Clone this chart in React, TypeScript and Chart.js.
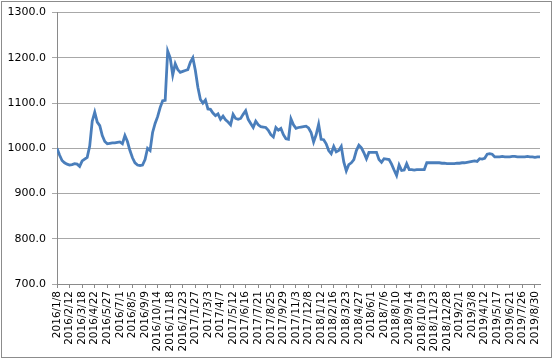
import React, { useEffect, useRef } from "react";
import { Chart, registerables } from "chart.js";

Chart.register(...registerables);

// x tick labels, one every 5 weekly observations
const tickLabels: string[] = [
  "2016/1/8", "2016/2/12", "2016/3/18", "2016/4/22", "2016/5/27", "2016/7/1", "2016/8/5", "2016/9/9",
  "2016/10/14", "2016/11/18", "2016/12/23", "2017/1/27", "2017/3/3", "2017/4/7", "2017/5/12", "2017/6/16",
  "2017/7/21", "2017/8/25", "2017/9/29", "2017/11/3", "2017/12/8", "2018/1/12", "2018/2/16", "2018/3/23",
  "2018/4/27", "2018/6/1", "2018/7/6", "2018/8/10", "2018/9/14", "2018/10/19", "2018/11/23", "2018/12/28",
  "2019/2/1", "2019/3/8", "2019/4/12", "2019/5/17", "2019/6/21", "2019/7/26", "2019/8/30",
];

// weekly index values
const values: number[] = [
  1000, 985, 973, 968, 965, 963, 964, 966, 965, 960,
  972, 976, 980, 1005, 1060, 1080, 1058, 1050, 1028, 1015,
  1010, 1011, 1012, 1012, 1013, 1014, 1010, 1028, 1015, 995,
  979, 968, 963, 962, 963, 975, 1000, 995, 1035, 1055,
  1070, 1090, 1105, 1106, 1215, 1200, 1162, 1187, 1174, 1168,
  1170, 1172, 1174, 1190, 1200, 1172, 1135, 1108, 1100, 1107,
  1087, 1086, 1078, 1072, 1076, 1064, 1071, 1063, 1058, 1052,
  1075, 1066, 1064, 1066, 1075, 1083, 1064, 1055, 1046, 1060,
  1052, 1048, 1047, 1046, 1040, 1030, 1025, 1046, 1040, 1044,
  1030, 1021, 1020, 1065, 1052, 1044, 1046, 1047, 1048, 1049,
  1045, 1035, 1014, 1030, 1053, 1020, 1019, 1010, 995, 988,
  1004, 992, 995, 1004, 970, 950, 964, 968, 975, 995,
  1007, 1001, 990, 977, 991, 991, 991, 991, 975, 969,
  977, 976, 975, 965, 952, 940, 963, 951, 952, 966,
  953, 953, 952, 953, 953, 953, 953, 968, 968, 968,
  968, 968, 968, 967, 967, 966, 966, 966, 966, 967,
  967, 968, 968, 969, 970, 971, 972, 971, 977, 976,
  978, 987, 988, 987, 981, 981, 981, 982, 981, 981,
  981, 982, 982, 981, 981, 981, 981, 982, 981, 981,
  980, 981, 981,
];

const yTicks = { min: 700, max: 1300, step: 100 };
const tickEvery = 5;

export default function App() {
  const ref = useRef<HTMLCanvasElement | null>(null);

  useEffect(() => {
    document.body.style.margin = "0";
    const canvas = ref.current;
    if (!canvas) return;
    const axisColor = "#8a8a8a";
    const gridColor = "#a8a8a8";
    const chart = new Chart(canvas, {
      type: "line",
      data: {
        datasets: [
          {
            data: values.map((v, i) => ({ x: i, y: v })),
            borderColor: "#4a7ebb",
            borderWidth: 2.8,
            pointRadius: 0,
            tension: 0,
            fill: false,
          },
        ],
      },
      options: {
        animation: false,
        responsive: false,
        maintainAspectRatio: false,
        devicePixelRatio: 1,
        layout: { padding: { left: 0, top: 12, right: 16, bottom: 0 } },
        plugins: { legend: { display: false }, tooltip: { enabled: false }, title: { display: false } },
        scales: {
          x: {
            type: "linear",
            min: 0,
            max: values.length - 1,
            border: { display: true, color: axisColor, width: 1 },
            grid: { drawOnChartArea: false, drawTicks: true, tickLength: 4, color: axisColor },
            ticks: {
              stepSize: tickEvery,
              includeBounds: false,
              autoSkip: false,
              maxRotation: 90,
              minRotation: 90,
              padding: 3,
              color: "#000",
              font: { family: "DejaVu Sans", size: 10.5 },
              callback: (v: any) => {
                const n = Number(v);
                if (n % tickEvery !== 0) return "";
                return tickLabels[n / tickEvery] ?? "";
              },
            },
            afterFit: (s: any) => {
              s.height = 75;
            },
          },
          y: {
            type: "linear",
            min: yTicks.min,
            max: yTicks.max,
            border: { display: true, color: axisColor, width: 1 },
            grid: { color: gridColor, lineWidth: 1, tickLength: 5, drawTicks: true },
            ticks: {
              stepSize: yTicks.step,
              padding: 6,
              color: "#000",
              font: { family: "DejaVu Sans", size: 11 },
              callback: (v: any) => Number(v).toFixed(1),
            },
            afterFit: (s: any) => {
              s.width = 57;
            },
          },
        },
      },
    });
    return () => chart.destroy();
  }, []);

  return (
    <div style={{ position: "relative", width: 556, height: 359, background: "#fff" }}>
      <canvas ref={ref} width={556} height={359} style={{ position: "absolute", left: 0, top: 0, width: 556, height: 359 }} />
      <div
        style={{
          position: "absolute",
          left: 1,
          top: 1,
          width: 549,
          height: 355,
          border: "1px solid #8c8c8c",
          pointerEvents: "none",
        }}
      />
    </div>
  );
}
